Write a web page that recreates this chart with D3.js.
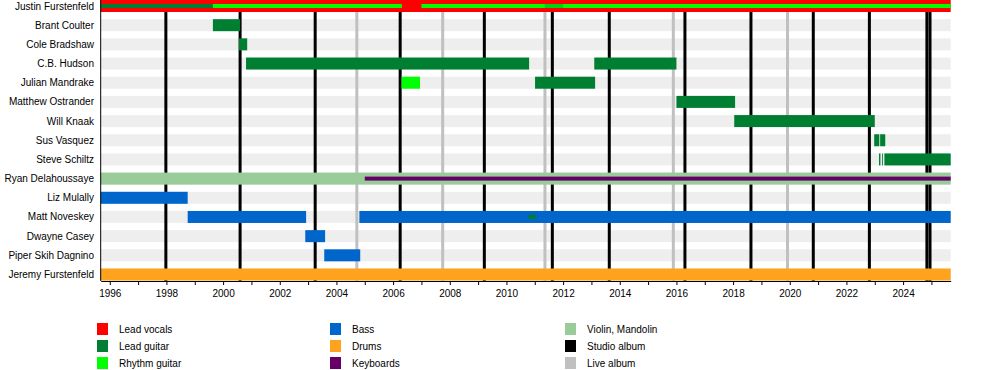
<!DOCTYPE html>
<html>
<head>
<meta charset="utf-8">
<script src="https://cdn.jsdelivr.net/npm/d3@7"></script>
<style>
  body { margin: 0; background: #fff; }
  svg { display: block; font-family: "Liberation Sans", Arial, sans-serif; }
</style>
</head>
<body>
<svg id="chart" width="1000" height="370"></svg>
<script>
// band members, top to bottom
const members = [
  'Justin Furstenfeld', 'Brant Coulter', 'Cole Bradshaw', 'C.B. Hudson', 'Julian Mandrake',
  'Matthew Ostrander', 'Will Knaak', 'Sus Vasquez', 'Steve Schiltz', 'Ryan Delahoussaye',
  'Liz Mulally', 'Matt Noveskey', 'Dwayne Casey', 'Piper Skih Dagnino', 'Jeremy Furstenfeld'
];

const roles = ['Lead vocals', 'Lead guitar', 'Rhythm guitar', 'Bass', 'Drums', 'Keyboards',
  'Violin, Mandolin', 'Studio album', 'Live album'];
const roleColors = ['#ff0000', '#007f33', '#00ff00', '#0066cc', '#ffa31f', '#660066',
  '#99cc99', '#000000', '#c0c0c0'];

const startYear = 1995.68, endYear = 2025.68;

// [member, role, from, to] - full-width bars
const bars = [
  ['Justin Furstenfeld', 'Lead vocals', 1995.68, 2025.68],
  ['Brant Coulter', 'Lead guitar', 1999.64, 2000.6],
  ['Cole Bradshaw', 'Lead guitar', 2000.56, 2000.85],
  ['C.B. Hudson', 'Lead guitar', 2000.81, 2010.8],
  ['C.B. Hudson', 'Lead guitar', 2013.1, 2016.0],
  ['Julian Mandrake', 'Rhythm guitar', 2006.3, 2006.95],
  ['Julian Mandrake', 'Lead guitar', 2011.01, 2013.13],
  ['Matthew Ostrander', 'Lead guitar', 2016.0, 2018.07],
  ['Will Knaak', 'Lead guitar', 2018.04, 2023.0],
  ['Sus Vasquez', 'Lead guitar', 2022.98, 2023.16],
  ['Sus Vasquez', 'Lead guitar', 2023.19, 2023.37],
  ['Steve Schiltz', 'Lead guitar', 2023.15, 2023.2],
  ['Steve Schiltz', 'Lead guitar', 2023.26, 2023.29],
  ['Steve Schiltz', 'Lead guitar', 2023.34, 2025.68],
  ['Ryan Delahoussaye', 'Violin, Mandolin', 1995.68, 2025.68],
  ['Liz Mulally', 'Bass', 1995.68, 1998.75],
  ['Matt Noveskey', 'Bass', 1998.75, 2002.93],
  ['Matt Noveskey', 'Bass', 2004.81, 2025.68],
  ['Dwayne Casey', 'Bass', 2002.9, 2003.6],
  ['Piper Skih Dagnino', 'Bass', 2003.57, 2004.84],
  ['Jeremy Furstenfeld', 'Drums', 1995.68, 2025.68]
];

// secondary roles drawn as thin stripes inside the bar
const stripes = [
  ['Justin Furstenfeld', 'Lead guitar', 1995.68, 1999.64],
  ['Justin Furstenfeld', 'Rhythm guitar', 1999.64, 2006.31],
  ['Justin Furstenfeld', 'Rhythm guitar', 2007.0, 2025.68],
  ['Ryan Delahoussaye', 'Keyboards', 2005.0, 2025.68],
  ['Matt Noveskey', 'Lead guitar', 2010.77, 2011.05]
];
// very short stints, drawn even thinner
const thinStripes = [
  ['Justin Furstenfeld', 'Lead guitar', 2011.35, 2012.0]
];

const studioAlbums = [1997.98, 2000.6, 2003.25, 2006.25, 2009.22, 2011.62, 2013.63,
  2016.3, 2018.63, 2020.83, 2022.81, 2024.84, 2024.95];
const liveAlbums = [2004.72, 2007.75, 2011.36, 2015.89, 2019.92];

const tickYears = d3.range(1996, 2026);

const svg = d3.select('#chart');
const plotLeft = 100.7, plotRight = 950.7, plotTop = 0, plotBottom = 281;

const x = d3.scaleLinear().domain([startYear, endYear]).range([plotLeft, plotRight]);
const y = d3.scalePoint().domain(members).range([6, 274.5]);
const color = d3.scaleOrdinal().domain(roles).range(roleColors);

// background stripes
svg.append('g').selectAll('rect').data(members).join('rect')
  .attr('x', plotLeft).attr('width', plotRight - plotLeft)
  .attr('y', d => y(d) - 6).attr('height', 12)
  .attr('fill', '#eeeeee');

// album lines
svg.append('g').selectAll('line').data(liveAlbums).join('line')
  .attr('x1', d => x(d)).attr('x2', d => x(d))
  .attr('y1', plotTop).attr('y2', plotBottom)
  .attr('stroke', color('Live album')).attr('stroke-width', 3);
svg.append('g').selectAll('line').data(studioAlbums).join('line')
  .attr('x1', d => x(d)).attr('x2', d => x(d))
  .attr('y1', plotTop).attr('y2', plotBottom)
  .attr('stroke', color('Studio album')).attr('stroke-width', 3);

// bars
svg.append('g').selectAll('rect').data(bars).join('rect')
  .attr('x', d => x(d[2])).attr('width', d => x(d[3]) - x(d[2]))
  .attr('y', d => y(d[0]) - 6).attr('height', 12)
  .attr('fill', d => color(d[1]));

svg.append('g').selectAll('rect').data(stripes).join('rect')
  .attr('x', d => x(d[2])).attr('width', d => x(d[3]) - x(d[2]))
  .attr('y', d => y(d[0]) - 2).attr('height', 4)
  .attr('fill', d => color(d[1]));

svg.append('g').selectAll('rect').data(thinStripes).join('rect')
  .attr('x', d => x(d[2])).attr('width', d => x(d[3]) - x(d[2]))
  .attr('y', d => y(d[0]) - 2).attr('height', 4)
  .attr('fill', d => color(d[1])).attr('opacity', 0.35);

// row labels
svg.append('g').selectAll('text').data(members).join('text')
  .attr('x', 94).attr('y', d => y(d)).attr('dy', '0.35em')
  .attr('text-anchor', 'end').attr('font-size', 10).attr('fill', '#000')
  .text(d => d);

// axes
const xAxis = svg.append('g').attr('transform', `translate(0,${plotBottom})`)
  .call(d3.axisBottom(x).tickValues(tickYears).tickSize(4).tickSizeOuter(0)
    .tickFormat(d => d % 2 === 0 ? d : ''));
xAxis.selectAll('text').attr('font-size', 10).attr('font-family', '"Liberation Sans", Arial, sans-serif').attr('dy', '0.9em');
xAxis.select('.domain').attr('stroke', '#000');

svg.append('line').attr('x1', plotLeft).attr('x2', plotLeft).attr('y1', plotTop).attr('y2', plotBottom)
  .attr('stroke', '#000');

// legend
const legendX = [97, 330, 565];
const legendY = [329, 346, 363];
const legend = svg.append('g').selectAll('g').data(roles).join('g')
  .attr('transform', (d, i) => `translate(${legendX[Math.floor(i / 3)]},${legendY[i % 3]})`);
legend.append('rect').attr('x', 0).attr('y', -6).attr('width', 11).attr('height', 12)
  .attr('fill', d => color(d));
legend.append('text').attr('x', 22).attr('dy', '0.35em').attr('font-size', 10)
  .text(d => d);
</script>
</body>
</html>
